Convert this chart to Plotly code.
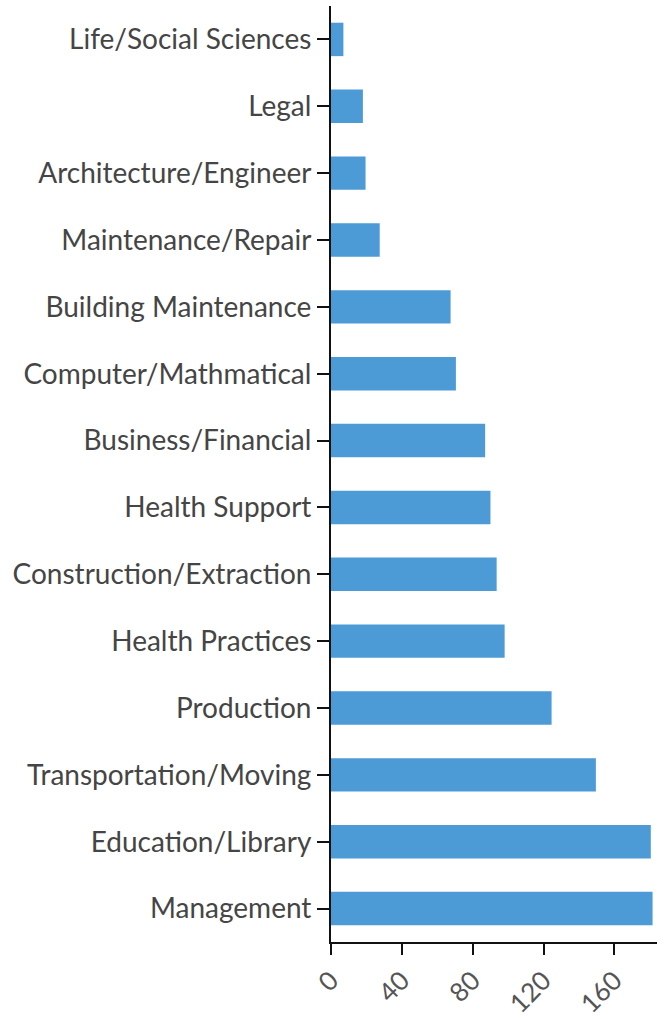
import plotly.graph_objects as go

categories = [
    "Life/Social Sciences", "Legal", "Architecture/Engineer", "Maintenance/Repair",
    "Building Maintenance", "Computer/Mathmatical", "Business/Financial", "Health Support",
    "Construction/Extraction", "Health Practices", "Production", "Transportation/Moving",
    "Education/Library", "Management",
]
values = [7, 18, 19.5, 27.5, 67.5, 70.5, 87, 90, 93.5, 98, 124.5, 149.5, 180.5, 181.5]
x_ticks = [0, 40, 80, 120, 160]

fig = go.Figure(go.Bar(
    y=categories, x=values, orientation="h",
    marker=dict(color="#4C9BD7", line=dict(width=0)),
    width=0.5,
))

fig.update_layout(
    width=666, height=1019,
    margin=dict(l=331, r=9, t=6, b=77),
    paper_bgcolor="white", plot_bgcolor="white",
    showlegend=False,
    font=dict(family="Lato", color="#333333"),
)
fig.update_yaxes(
    autorange=False, range=[13.5, -0.5], automargin=False,
    categoryorder="array", categoryarray=categories,
    showline=True, linecolor="#111111", linewidth=2,
    ticks="outside", ticklen=12, tickwidth=2, tickcolor="#111111",
    tickfont=dict(size=28, color="#454545"), showgrid=False,
)
fig.update_xaxes(
    range=[0, 184], tickvals=x_ticks, ticktext=[str(v) for v in x_ticks],
    automargin=False,
    showline=True, linecolor="#111111", linewidth=2,
    ticks="outside", ticklen=11, tickwidth=2, tickcolor="#111111",
    tickangle=-45, tickfont=dict(size=26, color="#555555"),
    showgrid=False, zeroline=False,
)

fig.write_html(
    "out.html",
    config={"displayModeBar": False},
    post_script="document.body.style.margin='0px';document.body.style.overflow='hidden';",
)
